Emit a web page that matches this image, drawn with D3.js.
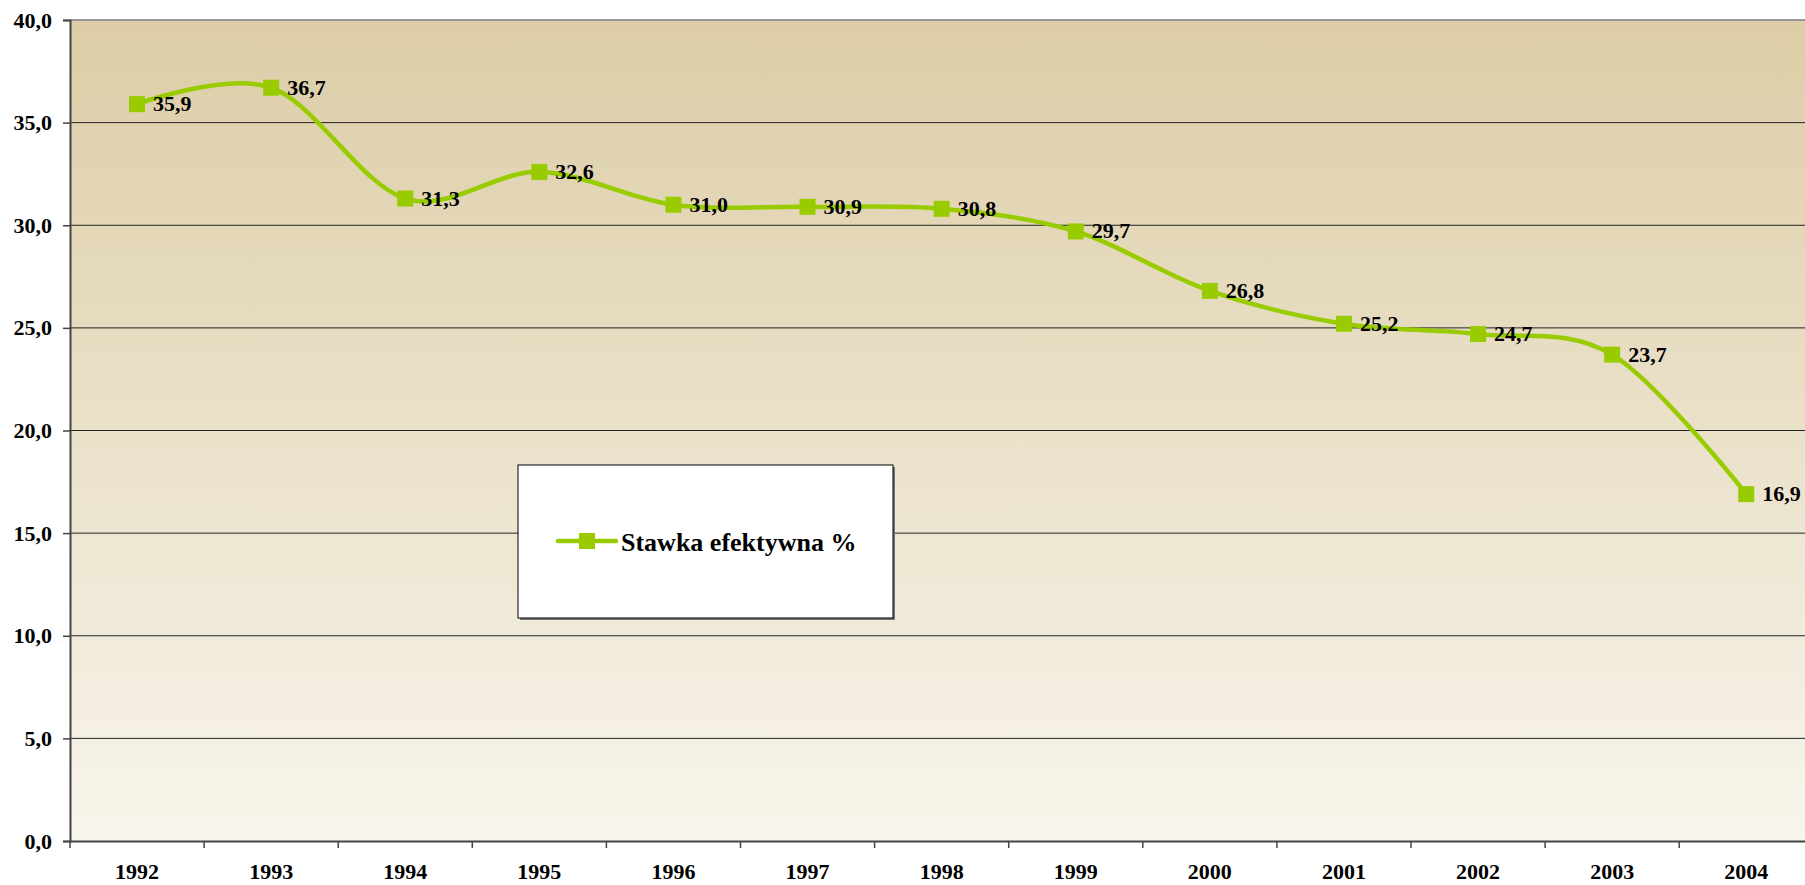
<!DOCTYPE html>
<html>
<meta charset="utf-8">
<head>
	<title>Stawka efektywna</title>
	<script src="https://cdn.jsdelivr.net/npm/d3@7/dist/d3.min.js" charset="utf-8"></script>
	<style>
		body { margin: 0; background: #fff; }
		svg text { font-family: "Liberation Serif", "Times New Roman", serif !important; font-weight: bold; fill: #000; }
	</style>
</head>
<body>
	<script type="text/javascript">
		var years = ['1992', '1993', '1994', '1995', '1996', '1997', '1998', '1999', '2000', '2001', '2002', '2003', '2004'];
		var rates = [35.9, 36.7, 31.3, 32.6, 31.0, 30.9, 30.8, 29.7, 26.8, 25.2, 24.7, 23.7, 16.9];
		var yTicks = [0, 5, 10, 15, 20, 25, 30, 35, 40];
		var seriesName = 'Stawka efektywna %';

		var W = 1805, H = 885;
		var margin = {top: 20, left: 70, bottom: 44};
		var plotRight = 70 + 13 * 134.1;
		var plotBottom = H - margin.bottom;
		var serif = '"Liberation Serif", "Times New Roman", serif';

		var svg = d3.select('body').append('svg')
			.attr('width', W)
			.attr('height', H);

		var x = d3.scaleBand().domain(years).range([margin.left, plotRight]);
		var y = d3.scaleLinear().domain([0, 40]).range([plotBottom, margin.top]);
		var fmt = function(v) { return d3.format('.1f')(v).replace('.', ','); };

		var grad = svg.append('defs').append('linearGradient')
			.attr('id', 'bg').attr('x1', 0).attr('y1', 0).attr('x2', 0).attr('y2', 1);
		grad.append('stop').attr('offset', '0%').attr('stop-color', '#dccda6');
		grad.append('stop').attr('offset', '100%').attr('stop-color', '#f8f5ec');

		svg.append('rect')
			.attr('x', margin.left).attr('y', margin.top)
			.attr('width', plotRight - margin.left)
			.attr('height', plotBottom - margin.top)
			.attr('fill', 'url(#bg)');

		// grid lines
		svg.append('g').selectAll('line')
			.data(yTicks.filter(function(d) { return d > 0 && d < 40; }))
			.enter().append('line')
			.attr('x1', margin.left).attr('x2', plotRight)
			.attr('y1', function(d) { return y(d); })
			.attr('y2', function(d) { return y(d); })
			.attr('stroke', '#222').attr('stroke-width', 1);

		// top border
		svg.append('line')
			.attr('x1', margin.left).attr('x2', plotRight)
			.attr('y1', y(40)).attr('y2', y(40))
			.attr('stroke', '#999').attr('stroke-width', 2);

		// y axis
		var yAxis = svg.append('g')
			.attr('transform', 'translate(' + margin.left + ',0)')
			.call(d3.axisLeft(y).tickValues(yTicks).tickFormat(fmt).tickSize(7).tickPadding(11));
		yAxis.attr('font-family', serif);
		yAxis.select('.domain').attr('stroke', '#444').attr('stroke-width', 2);
		yAxis.selectAll('.tick line').attr('stroke', '#444').attr('stroke-width', 1.5);
		yAxis.selectAll('text').style('font-size', '22px').style('font-family', serif).attr('fill', '#000');

		// x axis
		var xAxis = svg.append('g')
			.attr('transform', 'translate(0,' + plotBottom + ')')
			.call(d3.axisBottom(x).tickSize(0).tickPadding(22));
		xAxis.attr('font-family', serif);
		xAxis.select('.domain').attr('stroke', '#444').attr('stroke-width', 2);
		xAxis.selectAll('text').style('font-size', '22px').style('font-family', serif).attr('fill', '#000');
		xAxis.selectAll('.sep')
			.data(years)
			.enter().append('line')
			.attr('x1', function(d) { return x(d); })
			.attr('x2', function(d) { return x(d); })
			.attr('y1', 0).attr('y2', 7)
			.attr('stroke', '#444').attr('stroke-width', 1.5);

		var cx = function(i) { return x(years[i]) + x.bandwidth() / 2; };

		var line = d3.line()
			.x(function(d, i) { return cx(i); })
			.y(function(d) { return y(d); })
			.curve(d3.curveCardinal.tension(0));

		svg.append('path')
			.datum(rates)
			.attr('d', line)
			.attr('fill', 'none')
			.attr('stroke', '#99cc00')
			.attr('stroke-width', 4.5);

		svg.append('g').selectAll('rect')
			.data(rates)
			.enter().append('rect')
			.attr('x', function(d, i) { return cx(i) - 8; })
			.attr('y', function(d) { return y(d) - 8; })
			.attr('width', 16).attr('height', 16)
			.attr('fill', '#99cc00');

		svg.append('g').selectAll('text')
			.data(rates)
			.enter().append('text')
			.attr('x', function(d, i) { return cx(i) + 16; })
			.attr('y', function(d) { return y(d) + 7; })
			.style('font-size', '22px')
			.style('font-family', serif)
			.text(fmt);

		// legend
		var lg = svg.append('g');
		lg.append('rect')
			.attr('x', 520).attr('y', 467).attr('width', 375).attr('height', 153)
			.attr('fill', '#777');
		lg.append('rect')
			.attr('x', 518).attr('y', 465).attr('width', 375).attr('height', 153)
			.attr('fill', '#fff').attr('stroke', '#000').attr('stroke-width', 1);
		lg.append('line')
			.attr('x1', 558).attr('x2', 616).attr('y1', 541).attr('y2', 541)
			.attr('stroke', '#99cc00').attr('stroke-width', 4.5).attr('stroke-linecap', 'round');
		lg.append('rect')
			.attr('x', 579).attr('y', 533).attr('width', 16).attr('height', 16)
			.attr('fill', '#99cc00');
		lg.append('text')
			.attr('x', 621).attr('y', 551)
			.style('font-size', '26px')
			.style('font-family', serif)
			.text(seriesName);
	</script>
</body>
</html>
